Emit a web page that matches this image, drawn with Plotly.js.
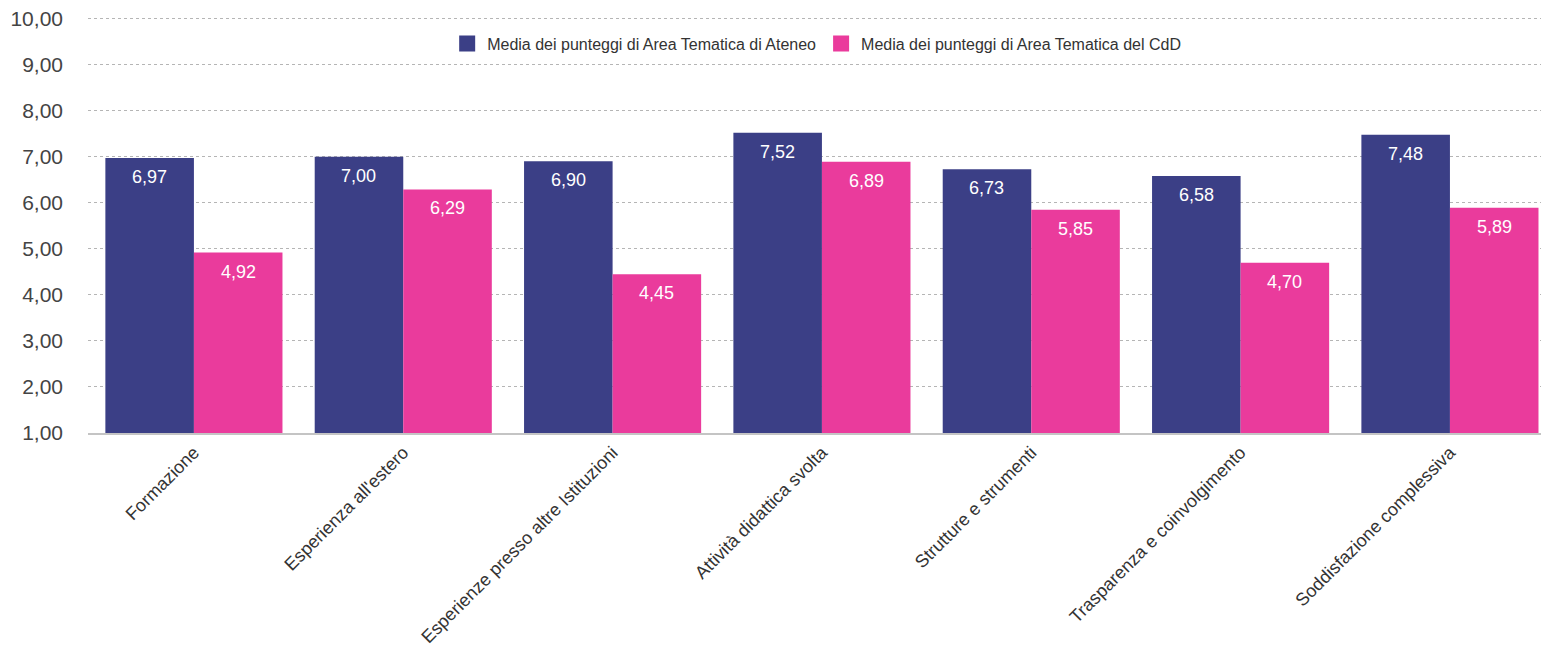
<!DOCTYPE html>
<html>
<head>
<meta charset="utf-8">
<script src="https://cdn.plot.ly/plotly-3.0.1.min.js"></script>
<style>html,body{margin:0;padding:0;background:#fff;}#chart{width:1541px;height:648px;}</style>
</head>
<body>
<div id="chart"></div>
<script>
const categories = ["Formazione", "Esperienza all'estero", "Esperienze presso altre Istituzioni", "Attività didattica svolta", "Strutture e strumenti", "Trasparenza e coinvolgimento", "Soddisfazione complessiva"];
const ateneo = [6.97, 7.00, 6.90, 7.52, 6.73, 6.58, 7.48];
const cdd = [4.92, 6.29, 4.45, 6.89, 5.85, 4.70, 5.89];
const seriesNames = ["Media dei punteggi di Area Tematica di Ateneo", "Media dei punteggi di Area Tematica del CdD"];
const seriesColors = ['#3b3f86', '#ea3b9c'];
const yTicks = [1, 2, 3, 4, 5, 6, 7, 8, 9, 10];

const font = "Liberation Sans, Arial, sans-serif";
const W = 1541, H = 648;
const margin = {l: 88, r: 0, t: 14.4, b: 215};
const xRange = [-0.506, 6.435];
const bargap = 0.154;
const catPx = (W - margin.l - margin.r) / (xRange[1] - xRange[0]);
const barPx = catPx * (1 - bargap) / 2;

const bars = [ateneo, cdd].map((vals, k) => ({
  type: 'bar',
  x: categories,
  y: vals,
  name: seriesNames[k],
  marker: {color: seriesColors[k]},
  showlegend: false,
  hoverinfo: 'skip'
}));
// legend entries with larger square swatches
const legendItems = seriesNames.map((n, k) => ({
  type: 'scatter', mode: 'markers', x: [null], y: [null], name: n,
  marker: {symbol: 'square', size: 16, color: seriesColors[k]},
  showlegend: true, hoverinfo: 'skip'
}));
const data = bars.concat(legendItems);

const fmt = v => v.toFixed(2).replace('.', ',');
const annotations = [];
[ateneo, cdd].forEach((vals, k) => {
  vals.forEach((v, i) => {
    annotations.push({
      x: categories[i], y: v, xref: 'x', yref: 'y',
      text: fmt(v), showarrow: false,
      xshift: (k === 0 ? -1 : 1) * barPx / 2, yshift: -19,
      xanchor: 'center', yanchor: 'middle',
      font: {color: '#ffffff', size: 18, family: font}
    });
  });
});

const layout = {
  width: W, height: H,
  margin: margin,
  separators: ',.',
  paper_bgcolor: '#fff', plot_bgcolor: '#fff',
  bargap: bargap, bargroupgap: 0,
  showlegend: true,
  legend: {orientation: 'h', x: 0.5015, xanchor: 'center', y: 0.97, yanchor: 'top',
           font: {size: 16, color: '#333', family: font}, traceorder: 'normal',
           itemsizing: 'trace', itemwidth: 30},
  xaxis: {range: xRange, tickangle: -45, tickfont: {size: 18, color: '#333', family: font},
          showline: true, linecolor: '#c4c4c4', linewidth: 2, ticks: '', showgrid: false},
  yaxis: {range: [1, 10.1], tickvals: yTicks, tickformat: '.2f',
          tickfont: {size: 21, color: '#444', family: font},
          showgrid: true, gridcolor: '#b5b5b5', griddash: 'dot', gridwidth: 1,
          zeroline: false, showline: false, ticks: '', ticklabelstandoff: 24},
  annotations: annotations
};
Plotly.newPlot('chart', data, layout, {displayModeBar: false, staticPlot: true});
</script>
</body>
</html>
